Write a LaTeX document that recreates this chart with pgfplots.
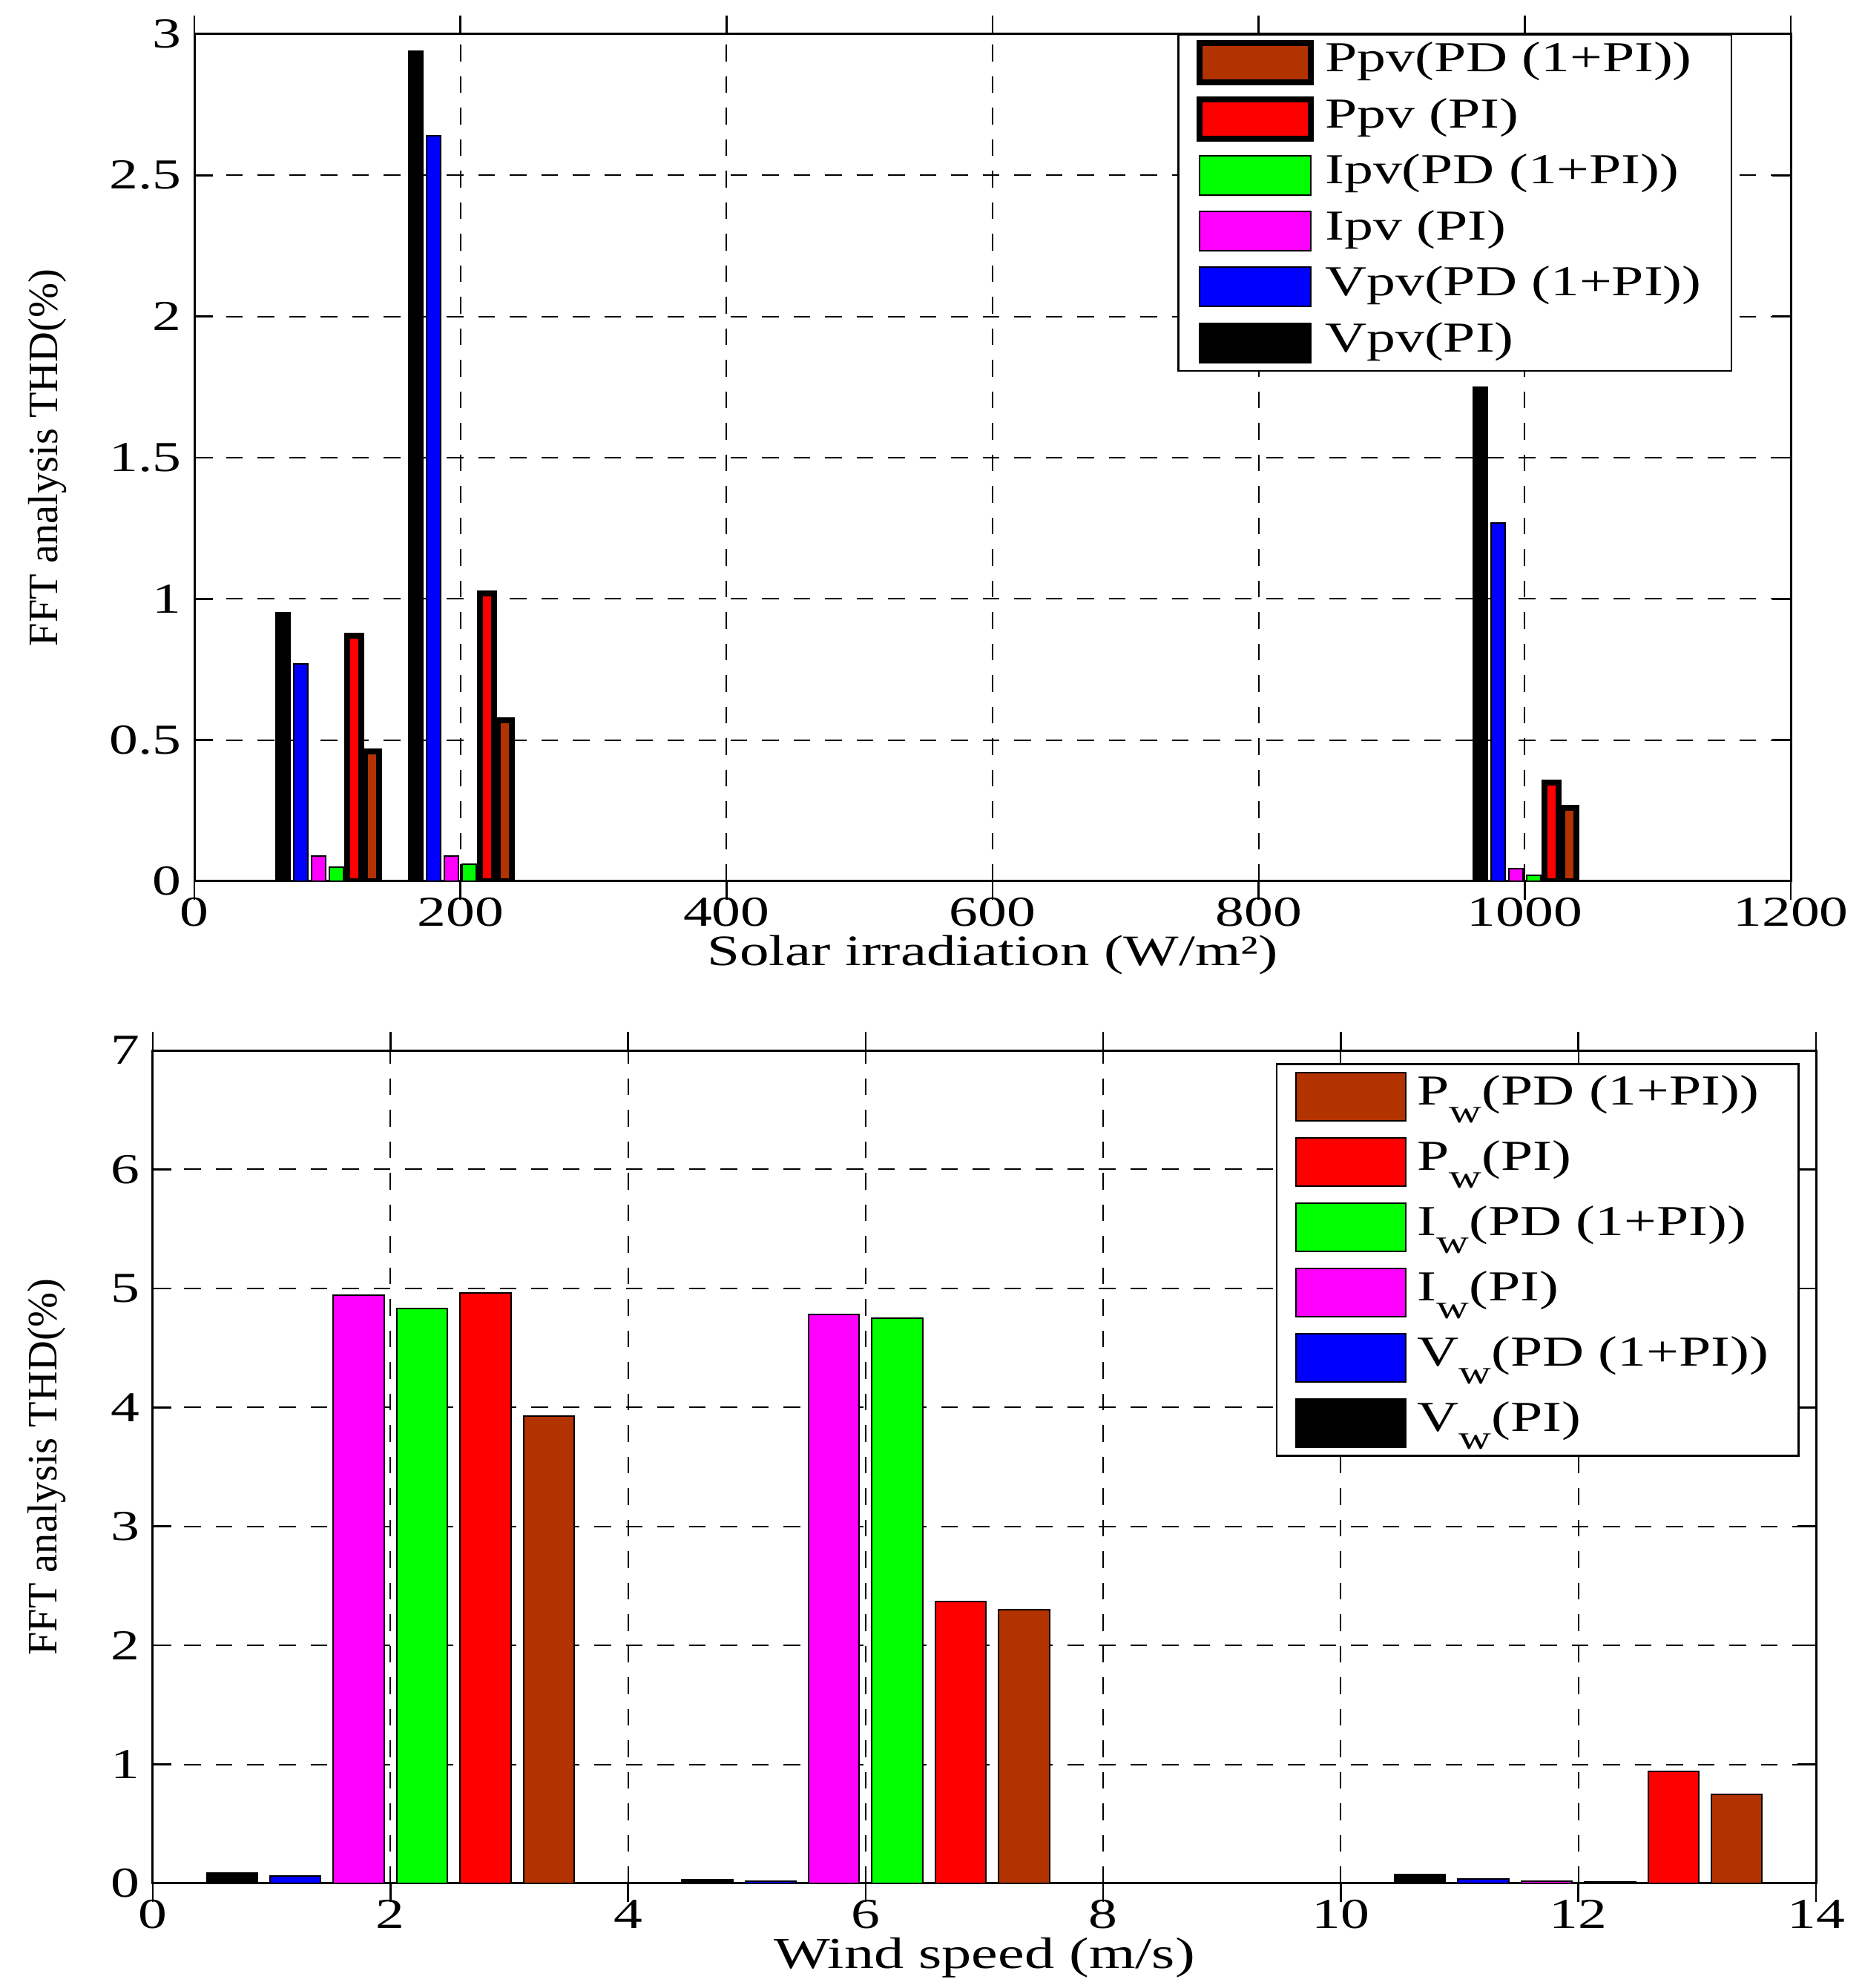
\documentclass[border=0pt]{standalone}
\usepackage{fontspec}
\setmainfont{Liberation Serif}[FakeStretch=1.35]
\newfontfamily\ylabfont{Liberation Serif}[FakeStretch=1.0]
\usepackage{pgfplots}
\pgfplotsset{compat=1.18}
\definecolor{mbrown}{RGB}{178,50,0}
\definecolor{mgreen}{RGB}{0,255,0}
\definecolor{mmag}{RGB}{255,0,255}
\definecolor{mblue}{RGB}{0,0,255}
\definecolor{mred}{RGB}{255,0,0}
\newcommand{\sub}[1]{\raisebox{-0.42em}{\fontsize{9}{9}\selectfont #1}}
\pgfplotsset{
  mystyle/.style={
    scale only axis,
    axis line style={black, line width=0.6pt},
    grid=major,
    major grid style={black, line width=0.4pt, dash pattern=on 4.5pt off 4pt},
    tick align=inside,
    tick style={black, line width=0.5pt},
    major tick length=5pt,
    ticklabel style={font=\fontsize{11.5}{12}\selectfont},
    xticklabel style={yshift=4pt},
    /pgf/number format/assume math mode=true,
    /pgf/number format/1000 sep={},
    ybar, bar shift=0pt,
    legend cell align=left,
    reverse legend,
  },
  thin bar/.style={draw=black, line width=0.4pt, fill=#1},
  thick bar/.style={draw=black, line width=1.6pt, fill=#1},
}
\begin{document}
\begin{tikzpicture}
\useasboundingbox (0,0) rectangle (502pt,536pt);
% ---------------- top axis ----------------
\begin{axis}[mystyle,
  at={(52.4pt,298.4pt)}, anchor=south west,
  width=430.4pt, height=228.4pt,
  xmin=0, xmax=1200, ymin=0, ymax=3,
  xtick={0,200,...,1200}, ytick={0,0.5,...,3},
  bar width=10.67,
  xlabel={Solar irradiation (W/m²)},
  ylabel={FFT analysis THD(\%)},
  every axis x label/.style={at={(axis description cs:0.5,-0.087)}, anchor=center, inner sep=0.5pt,
    font=\fontsize{11.7}{12}\selectfont},
  every axis y label/.style={at={(axis description cs:-0.092,0.5)}, anchor=center, rotate=90,
    font=\ylabfont\fontsize{11.3}{12}\selectfont},
  legend image code/.code={\draw[#1,/tikz/.cd] (0pt,-5.3pt) rectangle (30pt,5.3pt);},
  legend style={at={(axis description cs:1,1)}, anchor=north east, xshift=-15.8pt,
    draw=black, line width=0.5pt, inner xsep=5pt, inner ysep=0pt, row sep=0pt,
    font=\fontsize{11.5}{12}\selectfont,
    nodes={inner xsep=3pt, inner ysep=0pt, text height=9.9pt, text depth=5.2pt}},
]
\addplot[thin bar=black] coordinates {(66.67,0.95) (166.67,2.94) (966.67,1.75)};
\addlegendentry{Vpv(PI)}
\addplot[thin bar=mblue] coordinates {(80,0.77) (180,2.64) (980,1.27)};
\addlegendentry{Vpv(PD (1+PI))}
\addplot[thin bar=mmag] coordinates {(93.33,0.09) (193.33,0.09) (993.33,0.045)};
\addlegendentry{Ipv (PI)}
\addplot[thin bar=mgreen] coordinates {(106.67,0.05) (206.67,0.06) (1006.67,0.02)};
\addlegendentry{Ipv(PD (1+PI))}
\addplot[thick bar=mred] coordinates {(120,0.87) (220,1.02) (1020,0.35)};
\addlegendentry{Ppv (PI)}
\addplot[thick bar=mbrown] coordinates {(133.33,0.46) (233.33,0.57) (1033.33,0.26)};
\addlegendentry{Ppv(PD (1+PI))}
\end{axis}
% ---------------- bottom axis ----------------
\begin{axis}[mystyle,
  at={(41.2pt,28.2pt)}, anchor=south west,
  width=448.4pt, height=224.6pt,
  xmin=0, xmax=14, ymin=0, ymax=7,
  xtick={0,2,...,14}, ytick={0,1,...,7},
  bar width=0.4267,
  xlabel={Wind speed (m/s)},
  ylabel={FFT analysis THD(\%)},
  every axis x label/.style={at={(axis description cs:0.5,-0.089)}, anchor=center, inner sep=0.5pt,
    font=\fontsize{11.9}{12}\selectfont},
  every axis y label/.style={at={(axis description cs:-0.0636,0.5)}, anchor=center, rotate=90,
    font=\ylabfont\fontsize{11.3}{12}\selectfont},
  legend image code/.code={\draw[#1,/tikz/.cd] (0pt,-6.5pt) rectangle (29.5pt,6.5pt);},
  legend style={at={(axis description cs:1,1)}, anchor=north east, xshift=-4.5pt, yshift=-3.4pt,
    draw=black, line width=0.5pt, inner xsep=5pt, inner ysep=0pt, row sep=0pt,
    font=\fontsize{11.5}{12}\selectfont,
    nodes={inner xsep=3pt, inner ysep=0pt, text height=11pt, text depth=6.6pt}},
]
\addplot[thin bar=black] coordinates {(0.667,0.09) (4.667,0.03) (10.667,0.075)};
\addlegendentry{V\sub{w}(PI)}
\addplot[thin bar=mblue] coordinates {(1.2,0.065) (5.2,0.018) (11.2,0.035)};
\addlegendentry{V\sub{w}(PD (1+PI))}
\addplot[thin bar=mmag] coordinates {(1.733,4.94) (5.733,4.78) (11.733,0.02)};
\addlegendentry{I\sub{w}(PI)}
\addplot[thin bar=mgreen] coordinates {(2.267,4.83) (6.267,4.75) (12.267,0.01)};
\addlegendentry{I\sub{w}(PD (1+PI))}
\addplot[thin bar=mred] coordinates {(2.8,4.96) (6.8,2.37) (12.8,0.94)};
\addlegendentry{P\sub{w}(PI)}
\addplot[thin bar=mbrown] coordinates {(3.333,3.93) (7.333,2.30) (13.333,0.75)};
\addlegendentry{P\sub{w}(PD (1+PI))}
\end{axis}
\end{tikzpicture}
\end{document}
